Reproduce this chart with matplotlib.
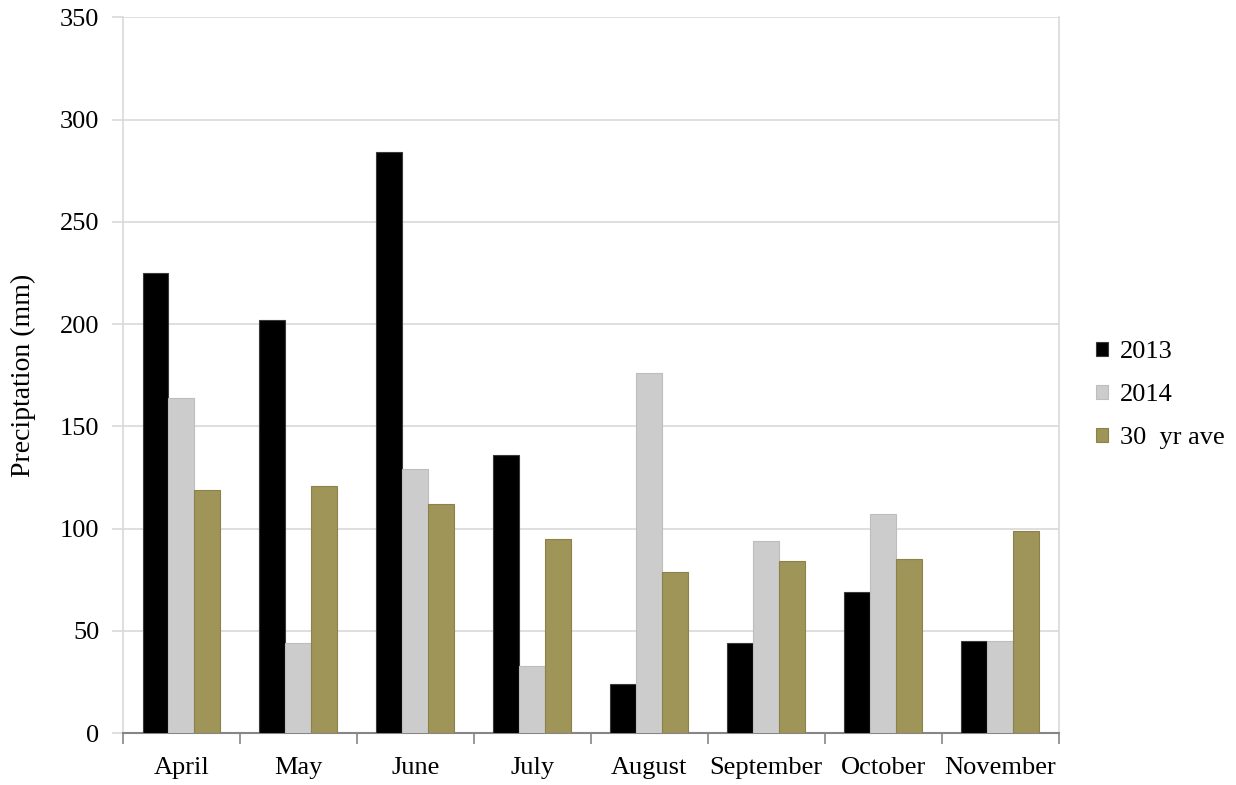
import numpy as np
import matplotlib
matplotlib.use("Agg")
import matplotlib.pyplot as plt

plt.rcParams['font.family'] = ['Liberation Serif', 'DejaVu Serif']

# monthly precipitation, mm
months = ['April', 'May', 'June', 'July', 'August', 'September', 'October', 'November']
precip_2013 = [225, 202, 284, 136, 24, 44, 69, 45]
precip_2014 = [164, 44, 129, 33, 176, 94, 107, 45]
precip_30yr = [119, 121, 112, 95, 79, 84, 85, 99]

series = [
    ('2013', precip_2013, '#000000', '#3a3a3a'),
    ('2014', precip_2014, '#cccccc', '#bdbdbd'),
    ('30  yr ave', precip_30yr, '#9f9559', '#8a8248'),
]

fig = plt.figure(figsize=(12.36, 7.85), dpi=100)
ax = fig.add_axes([0.0995, 0.066, 0.757, 0.912])

x = np.arange(len(months))
w = 0.222
for i, (label, vals, color, edge) in enumerate(series):
    ax.bar(x + (i - 1) * w, vals, width=w, color=color, edgecolor=edge,
           linewidth=0.8, label=label, zorder=3)

ax.set_xlim(-0.5, len(months) - 0.5)
ax.set_ylim(0, 350)
ax.set_yticks(np.arange(0, 351, 50))
ax.yaxis.grid(True, color='#d9d9d9', linewidth=1.2, zorder=0)
ax.set_axisbelow(True)

# category labels centred, tick marks on the boundaries between months
ax.set_xticks(x)
ax.set_xticklabels(months, fontsize=19)
ax.set_xticks(np.arange(-0.5, len(months)), minor=True)
ax.tick_params(axis='x', which='major', length=0, pad=17)
ax.tick_params(axis='x', which='minor', length=8, width=1.2, color='#868686')
ax.tick_params(axis='y', length=8, width=1.2, color='#d9d9d9', labelsize=19, pad=9)

for side in ('left', 'right'):
    ax.spines[side].set_color('#d9d9d9')
    ax.spines[side].set_linewidth(1.2)
ax.spines['top'].set_visible(False)
ax.spines['bottom'].set_color('#868686')
ax.spines['bottom'].set_linewidth(1.5)

ax.set_ylabel('Preciptation (mm)', fontsize=20, labelpad=17)

ax.legend(loc='center left', bbox_to_anchor=(1.015, 0.472), frameon=False,
          fontsize=19, handlelength=0.45, handleheight=0.45, handletextpad=0.45,
          labelspacing=0.8)

fig.savefig('out.png', dpi=100)
